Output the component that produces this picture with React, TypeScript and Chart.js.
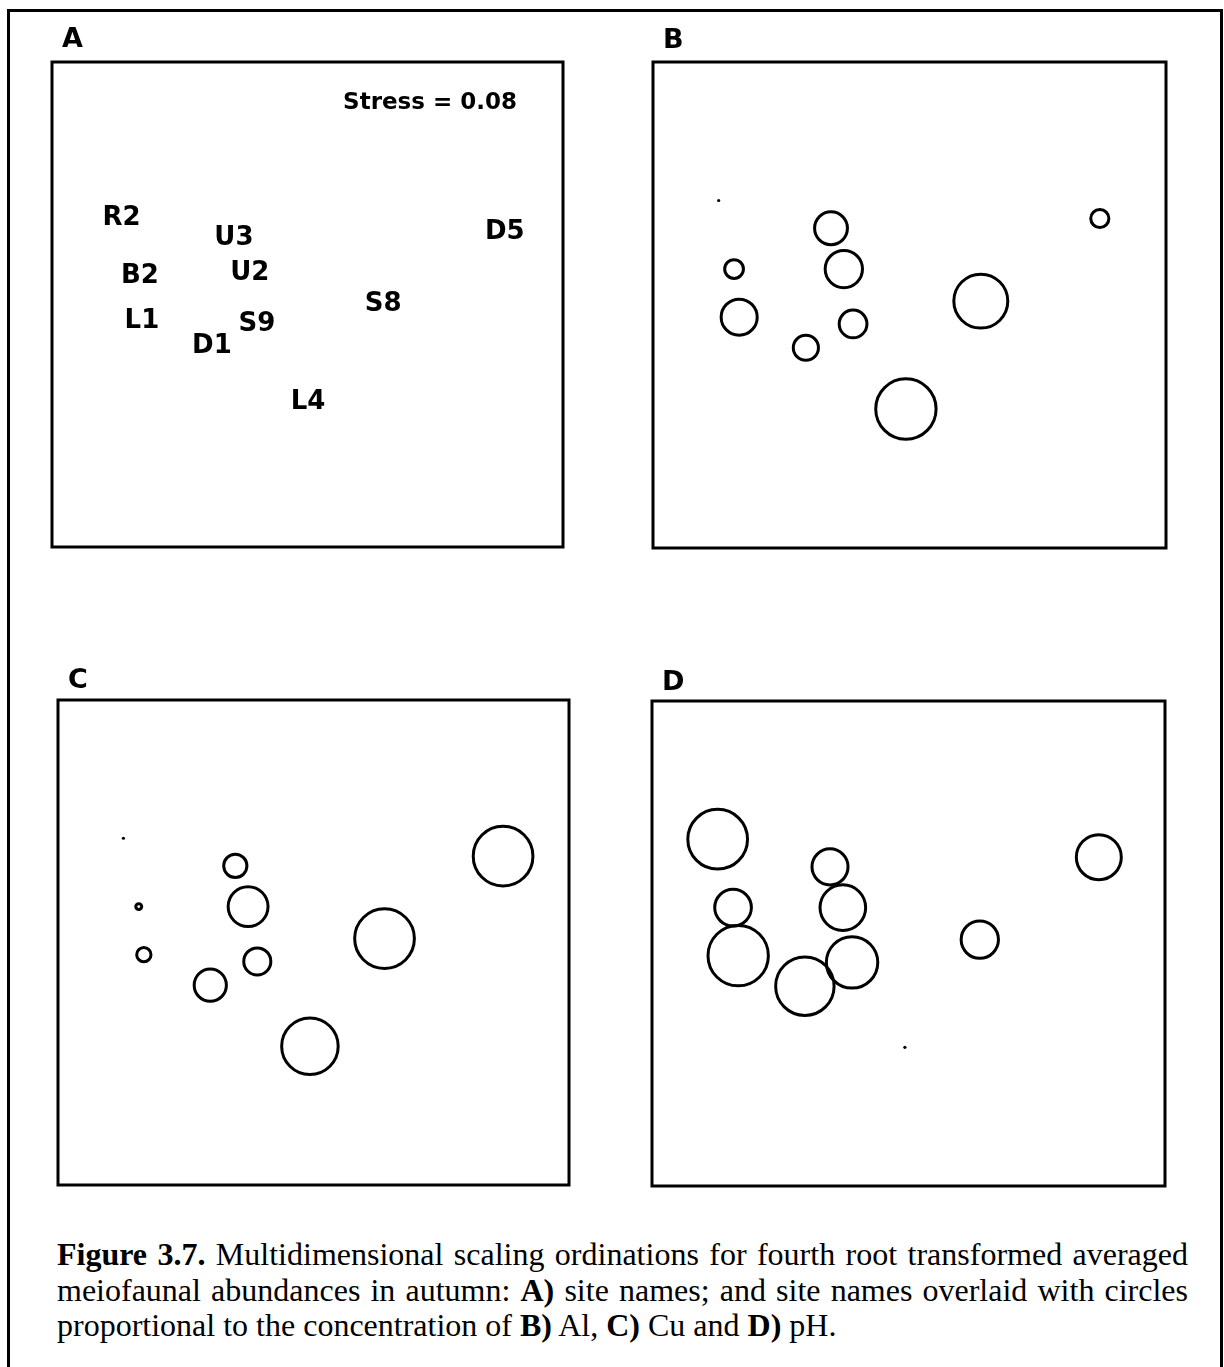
import React, { useEffect, useRef } from 'react';
import { Chart, registerables } from 'chart.js';

Chart.register(...registerables);

// ---- Data ----
const siteNames = ['R2', 'U3', 'D5', 'B2', 'U2', 'S8', 'L1', 'S9', 'D1', 'L4'];
// MDS site coordinates (axis units 0-100) used by panels B, C, D
const siteX = [12.8, 34.7, 87.1, 15.8, 37.2, 63.9, 16.8, 39.0, 29.8, 49.3];
const siteY = [71.5, 65.8, 67.8, 57.4, 57.4, 50.8, 47.5, 46.1, 41.2, 28.6];
// Label positions of panel A (axis units 0-100)
const labelX = [13.6, 35.6, 88.6, 17.2, 38.7, 64.8, 17.6, 40.1, 31.3, 50.1];
const labelY = [68.3, 64.3, 65.4, 56.3, 57.1, 50.7, 47.2, 46.4, 41.9, 30.5];
// Relative concentrations (bubble size, 1 = largest)
const alRel = [0, 0.56, 0.33, 0.34, 0.63, 0.89, 0.61, 0.48, 0.44, 0.99];
const cuRel = [0, 0.41, 0.98, 0.14, 0.67, 0.98, 0.27, 0.47, 0.55, 0.93];
const phRel = [0.98, 0.61, 0.75, 0.62, 0.76, 0.63, 0.99, 0.85, 0.96, 0];
const stressText = 'Stress = 0.08';
const panelLetters = ['A', 'B', 'C', 'D'];

// ---- Layout / style ----
const MAX_R = 32;
const STROKE = 3;
const PAD = { left: 20, right: 20, top: 50, bottom: 20 };
const panels = [
  { box: [52, 62, 511, 485], letterDy: 15, values: null as number[] | null },
  { box: [653, 62, 513, 486], letterDy: 14, values: alRel },
  { box: [58, 700, 511, 485], letterDy: 12, values: cuRel },
  { box: [652, 701, 513, 485], letterDy: 11, values: phRel },
];

const framePlugin = (idx: number) => ({
  id: 'frame' + idx,
  afterDraw(chart: any) {
    const { ctx, chartArea } = chart;
    const { left, top, right, bottom } = chartArea;
    ctx.save();
    ctx.strokeStyle = '#000';
    ctx.lineWidth = 3;
    ctx.strokeRect(left, top, right - left, bottom - top);
    ctx.fillStyle = '#000';
    ctx.font = 'bold 27px "DejaVu Sans"';
    ctx.textAlign = 'left';
    ctx.textBaseline = 'alphabetic';
    ctx.fillText(panelLetters[idx], left + 10, top - panels[idx].letterDy);
    if (idx === 0) {
      ctx.font = 'bold 23px "DejaVu Sans"';
      ctx.textAlign = 'right';
      ctx.fillText(stressText, left + 465, top + 47);
      ctx.font = 'bold 26px "DejaVu Sans"';
      ctx.textAlign = 'center';
      const meta = chart.getDatasetMeta(0);
      meta.data.forEach((el: any, i: number) => {
        ctx.fillText(siteNames[i], el.x, el.y + 9.5);
      });
    }
    ctx.restore();
  },
});

function Panel({ idx }: { idx: number }) {
  const ref = useRef<HTMLCanvasElement>(null);
  const p = panels[idx];
  const [bx, by, bw, bh] = p.box;
  const w = bw + PAD.left + PAD.right;
  const h = bh + PAD.top + PAD.bottom;
  useEffect(() => {
    if (!ref.current) return;
    const vals = p.values;
    const data: any =
      vals === null
        ? {
            datasets: [
              {
                data: labelX.map((x, i) => ({ x, y: labelY[i] })),
                pointRadius: 0,
              },
            ],
          }
        : {
            datasets: [
              {
                data: siteX.map((x, i) => ({
                  x,
                  y: siteY[i],
                  r: vals[i] > 0 ? vals[i] * MAX_R - STROKE / 2 : 1.6,
                })),
                backgroundColor: vals.map((v) => (v > 0 ? 'rgba(0,0,0,0)' : '#000')),
                borderColor: '#000',
                borderWidth: vals.map((v) => (v > 0 ? STROKE : 0)),
                clip: false,
              },
            ],
          };
    const chart = new Chart(ref.current, {
      type: vals === null ? 'scatter' : 'bubble',
      data,
      options: {
        responsive: false,
        animation: false,
        events: [],
        layout: { padding: PAD, autoPadding: false },
        scales: {
          x: { type: 'linear', min: 0, max: 100, display: false },
          y: { type: 'linear', min: 0, max: 100, display: false },
        },
        plugins: { legend: { display: false }, tooltip: { enabled: false } },
      },
      plugins: [framePlugin(idx)],
    } as any);
    return () => chart.destroy();
  }, []);
  return (
    <canvas
      ref={ref}
      width={w}
      height={h}
      style={{ position: 'absolute', left: bx - PAD.left, top: by - PAD.top, width: w, height: h }}
    />
  );
}

const captionStyle: React.CSSProperties = {
  position: 'absolute',
  left: 57,
  width: 1131,
  fontFamily: '"Liberation Serif", "Times New Roman", serif',
  fontSize: 32,
  lineHeight: '35.5px',
  whiteSpace: 'nowrap',
  color: '#000',
};

export default function App() {
  return (
    <div
      style={{
        position: 'absolute',
        left: 0,
        top: 0,
        width: 1224,
        height: 1367,
        overflow: 'hidden',
        background: '#fff',
      }}
    >
      <div
        style={{
          position: 'absolute',
          left: 7,
          top: 9,
          width: 1216,
          height: 1380,
          border: '3px solid #000',
          boxSizing: 'border-box',
        }}
      />
      {[0, 1, 2, 3].map((i) => (
        <Panel key={i} idx={i} />
      ))}
      <div style={{ ...captionStyle, top: 1237, textAlign: 'justify', textAlignLast: 'justify' }}>
        <b>Figure 3.7.</b> Multidimensional scaling ordinations for fourth root transformed averaged
      </div>
      <div style={{ ...captionStyle, top: 1272.5, textAlign: 'justify', textAlignLast: 'justify' }}>
        meiofaunal abundances in autumn: <b>A)</b> site names; and site names overlaid with circles
      </div>
      <div style={{ ...captionStyle, top: 1308 }}>
        proportional to the concentration of <b>B)</b> Al, <b>C)</b> Cu and <b>D)</b> pH.
      </div>
    </div>
  );
}
